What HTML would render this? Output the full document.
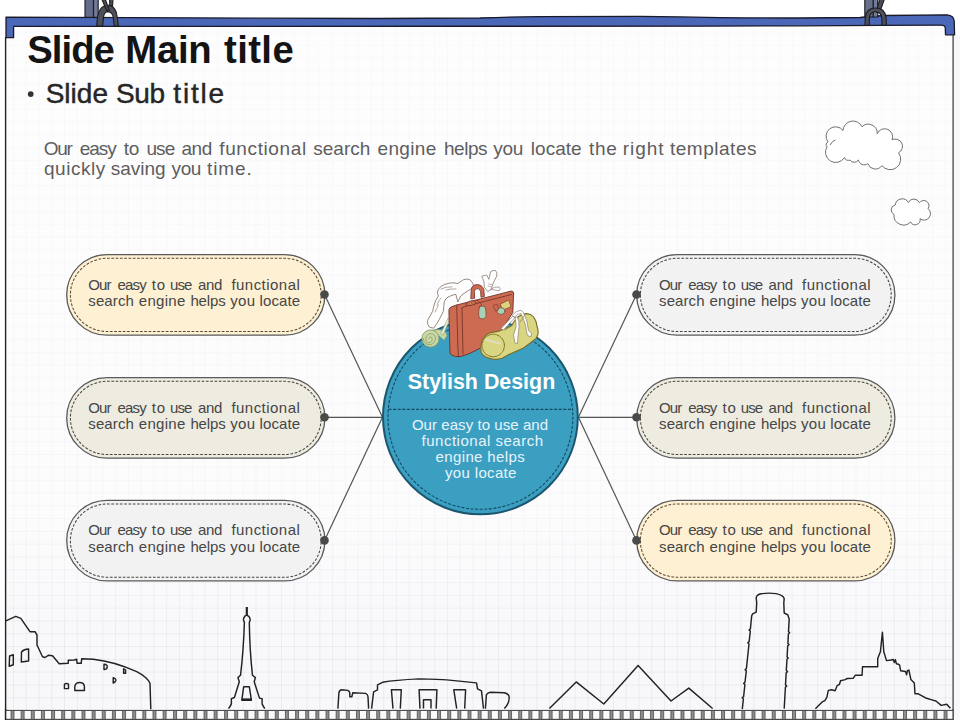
<!DOCTYPE html>
<html><head><meta charset="utf-8">
<style>
html,body{margin:0;padding:0;}
body{width:960px;height:720px;overflow:hidden;position:relative;background:#fff;font-family:"Liberation Sans",sans-serif;}
.abs{position:absolute;}
#paper{left:6px;top:26px;width:947px;height:684px;background-color:#f6f6f9;
background-image:linear-gradient(to bottom, rgba(255,255,255,.8) 0%, rgba(255,255,255,.68) 72%, rgba(255,255,255,.3) 88%, rgba(255,255,255,.22) 100%),linear-gradient(to right, rgba(190,190,215,.32) 1px, transparent 1px),linear-gradient(to bottom, rgba(190,190,215,.32) 1px, transparent 1px);
background-size:100% 100%,12.78px 12.8px,12.78px 12.8px;background-position:0 0,-5.8px -7px,-5.8px -7px;}
#svg{position:absolute;left:0;top:0;}
.t{position:absolute;white-space:nowrap;}
.tt{top:28.3px;font-size:38.3px;font-weight:bold;color:#141414;line-height:44px;}
.st{top:77.3px;font-size:28px;color:#262626;line-height:34px;-webkit-text-stroke:0.45px #262626;}
.bw{position:absolute;white-space:nowrap;font-size:19px;color:#5e5e5e;line-height:20px;letter-spacing:0.6px;}
.pw{position:absolute;white-space:nowrap;font-size:15px;line-height:16.5px;color:#464646;letter-spacing:0.3px;}
#ct{left:383.5px;top:369.5px;width:196px;text-align:center;font-size:21.4px;font-weight:bold;color:#fff;}
.cb{font-size:15px;line-height:16px;color:#e6f4fa;}
</style></head>
<body>
<div id="paper" class="abs"></div>
<svg id="svg" width="960" height="720" viewBox="0 0 960 720">
  <circle cx="30.7" cy="94.1" r="2.9" fill="#333"/>
  <!-- paper side borders -->
  <line x1="5.6" y1="37" x2="5.6" y2="720" stroke="#222" stroke-width="1.4"/>
  <rect x="954" y="35" width="6" height="685" fill="#f8f8fa"/>
  <line x1="953.1" y1="34" x2="953.1" y2="720" stroke="#444" stroke-width="1.3"/>

  <!-- top blue bar -->
  <path d="M6,17.2 L130,17.6 Q200,17.9 260,18.2 Q320,18.5 375,18.5 Q440,18.4 480,18 Q510,16.8 540,16.6 L640,16.4 Q680,16.8 720,17.6 Q770,18.1 800,18 L860,17.5 Q872,16 885,15.5 L947,14.8 Q953.8,15.3 954.2,21 L954.6,34.8 L945.5,34.8 L945.3,28 Q945,25.2 941,25.2 L880,25.3 Q840,25.5 800,25.8 L700,26.2 L13.6,26.4 L13.6,37.6 L6,37.6 Z" fill="#4a67b8" stroke="#1a1a2a" stroke-width="1.3" stroke-linejoin="round"/>

  <!-- clips left -->
  <g stroke="#1c1c22" stroke-width="1.1" stroke-linejoin="round">
    <rect x="85" y="-2" width="8.5" height="19.4" fill="#646c87"/>
    <rect x="93.5" y="-2" width="4.7" height="19.4" fill="#6f7894"/>
    <path d="M96.7,26 L97.5,17 Q99,9 103,6.6 Q107,4.6 111,5.5 Q115,8 116.5,13 L118.5,26 L114.2,26 L113.3,17.5 Q112.5,12.2 108,11.8 Q104.6,11.9 103.7,16 L102.6,26 Z" fill="#4d5058"/>
    <path d="M109.5,-2 L113,-2 L112.6,5.6 L109.8,5.6 Z" fill="#4a4d55"/>
    <path d="M101.3,-2 L104.8,-2 L109.3,10.2 L106.8,10.8 Z" fill="#4a4d55"/>
  </g>
  <!-- clips right -->
  <g stroke="#1c1c22" stroke-width="1.1" stroke-linejoin="round">
    <rect x="864.8" y="-2" width="8.5" height="19" fill="#68718c"/>
    <rect x="873.3" y="-2" width="4.4" height="19" fill="#737c98"/>
    <path d="M880,-2 L884.8,-2 L879.5,13 L876.3,12 Z" fill="#4a4d55"/>
    <path d="M865,25.4 L865.3,17 Q866.5,8 875.6,8 Q884.8,8 886,17 L886.3,25.4 L882,25.4 L881.8,18 Q881,11.8 875.5,11.8 Q870,11.8 869.4,18 L869.2,25.4 Z" fill="#4d5058"/>
  </g>

  <!-- clouds -->
  <path d="M828,142 A8,8 0 0 1 843,130.5 A10,10 0 0 1 862,126.7 A9,9 0 0 1 877.2,133.7 A8,8 0 0 1 892,139.8 A7,7 0 0 1 898.5,152.8 A9,9 0 0 1 881.9,165.6 A8,8 0 0 1 867.8,163.7 A6,6 0 0 1 858.4,160 A5,5 0 0 1 850,160 A4,4 0 0 1 844.4,157.6 A10,10 0 0 1 827,146.9 A3,3 0 0 1 828,142 Z" fill="#fff" stroke="#707070" stroke-width="1"/>
  <path d="M830,145 Q832,141 835.5,140" fill="none" stroke="#707070" stroke-width="1"/>
  <path d="M895.3,205 A7,7 0 0 1 908.4,202.5 A6,6 0 0 1 919.4,202.8 A5,5 0 0 1 928.1,208.7 A6,6 0 0 1 920,218.7 A5,5 0 0 1 910.6,221.9 A9.6,9.6 0 0 1 894,214.4 A5,5 0 0 1 895.3,205 Z" fill="#fff" stroke="#707070" stroke-width="1"/>

  <!-- connector lines -->
  <g stroke="#555" stroke-width="1.2" fill="none">
    <line x1="324.5" y1="294.5" x2="382.5" y2="417.3"/>
    <line x1="324.5" y1="417.3" x2="382.5" y2="417.3"/>
    <line x1="324.5" y1="540.4" x2="382.5" y2="417.3"/>
    <line x1="636.5" y1="294.5" x2="578.4" y2="417.3"/>
    <line x1="636.5" y1="417.3" x2="578.4" y2="417.3"/>
    <line x1="636.5" y1="540.4" x2="578.4" y2="417.3"/>
  </g>

  <!-- pills -->
  <g stroke="#5a5a5a" stroke-width="1.3">
    <rect x="66.7" y="254.6" width="258.2" height="80.6" rx="40.3" fill="#fdf0d3"/>
    <rect x="66.7" y="377.6" width="258.2" height="80.6" rx="40.3" fill="#eeebe0"/>
    <rect x="66.7" y="500.3" width="258.2" height="80.6" rx="40.3" fill="#f2f2f2"/>
    <rect x="636.7" y="254.6" width="258.2" height="80.6" rx="40.3" fill="#f2f2f2"/>
    <rect x="636.7" y="377.6" width="258.2" height="80.6" rx="40.3" fill="#eeebe0"/>
    <rect x="636.7" y="500.3" width="258.2" height="80.6" rx="40.3" fill="#fdf0d3"/>
  </g>
  <g stroke-width="1.05" stroke-dasharray="2.7 1.6" fill="none">
    <rect x="70.4" y="258.3" width="250.8" height="73.2" rx="36.6" stroke="#564a35"/>
    <rect x="640.4" y="258.3" width="250.8" height="73.2" rx="36.6" stroke="#444"/>
    <rect x="70.4" y="381.3" width="250.8" height="73.2" rx="36.6" stroke="#48463d"/>
    <rect x="640.4" y="381.3" width="250.8" height="73.2" rx="36.6" stroke="#48463d"/>
    <rect x="70.4" y="504.0" width="250.8" height="73.2" rx="36.6" stroke="#444"/>
    <rect x="640.4" y="504.0" width="250.8" height="73.2" rx="36.6" stroke="#564a35"/>
  </g>
  <g fill="#4a4a4a">
    <circle cx="324.5" cy="294.5" r="4.3"/>
    <circle cx="324.5" cy="417.3" r="4.3"/>
    <circle cx="324.5" cy="540.4" r="4.3"/>
    <circle cx="636.5" cy="294.5" r="4.3"/>
    <circle cx="636.5" cy="417.3" r="4.3"/>
    <circle cx="636.5" cy="540.4" r="4.3"/>
  </g>

  <!-- center circle -->
  <circle cx="480.4" cy="416.9" r="97.4" fill="#3b9fc2" stroke="#1c566e" stroke-width="2"/>
  <circle cx="480.4" cy="416.9" r="92.4" fill="none" stroke="#174a61" stroke-width="1.1" stroke-dasharray="3 1.6"/>
  <line x1="388.5" y1="409.4" x2="572.5" y2="409.4" stroke="#174a61" stroke-width="1.2" stroke-dasharray="3 1.6"/>


  <!-- luggage -->
  <g id="lug" stroke-linejoin="round" stroke-linecap="round">
    <!-- cloth / scarf -->
    <path d="M472.3,282.5 Q470,278.5 467.5,279.1 Q463,279 461.6,281 L457.8,283.5 Q454,282.5 450,283 Q444,284 441.2,286.4 Q437.5,289 437.4,292.2 L438.3,296.1 Q436,299.5 434.4,303.9 L432.5,311.6 Q430,316 427.6,320.4 Q427,325 429.6,327.2 L433.5,328.2 Q437,324 439.3,319.4 L443.2,311.6 Q444,306 444.2,301.9 Q445.5,298.5 448,297.1 Q452,295 455.8,294.2 L457.8,301.9 L460.7,296.1 Q464,293 467.5,291.2 Q470.5,289.5 472.3,287.4 Q474,286 473.3,284.4 Z" fill="#fff" stroke="#7d6a5a" stroke-width="0.8"/>
    <path d="M441,289 Q446,286.5 452,286.8 M446,290 Q451,288.5 456,289 M437,305 Q439,300 441,298 M435,312 Q437,308 438.5,305" fill="none" stroke="#7d6a5a" stroke-width="0.6"/>
    <!-- snail roll -->
    <path d="M433,330 Q446,328 447,336 L444,340" fill="#c9d9a6" stroke="#8a9a6a" stroke-width="0.8"/>
    <circle cx="430.5" cy="338.5" r="8.6" fill="#c9d9a6" stroke="#8a9a6a" stroke-width="0.9"/>
    <path d="M430.5,338.5 m-1.5,0 a1.5,1.5 0 1 1 3,0 a3.2,3.2 0 1 1 -6,0 a4.8,4.8 0 1 1 9.6,0 a6.2,6.2 0 1 1 -12.4,0" fill="none" stroke="#8a9a6a" stroke-width="0.8"/>
    <!-- strap going to suitcase -->
    <path d="M441,333 L448,318 L450,319 L443,335 Z" fill="#e8efe0" stroke="#8a9a6a" stroke-width="0.6"/>
    <!-- white ribbon top right -->
    <path d="M482.2,276.1 L486.7,275 L488.9,279.4 L490.6,271.7 Q493,270 495.6,270.6 Q497.5,272.5 496.7,276.1 L493.3,282.8 L491.1,289.4 L487.8,291.7 L484.4,287.2 L483.9,281.7 Z" fill="#fff" stroke="#7d6a5a" stroke-width="0.7"/>
    <path d="M488.5,284 L492,284.5 M488,286 L491.5,287" stroke="#7d6a5a" stroke-width="0.5"/>
    <!-- suitcase -->
    <path d="M449.2,309 Q449.5,307.5 452,306.6 L456.7,305 L511.1,291.1 Q513.5,291 513.6,293 L512.8,312.6 L502,329.5 L480,348.3 L470,353.3 L460,356.7 Q455,357 451.5,355 Q450,354 450,352 L448.9,311 Z" fill="#cd6b52" stroke="#6e2f22" stroke-width="0.9"/>
    <path d="M456.7,305 L457.8,345 L458.5,356.5 M462,308 Q463.5,307 466,306.2 L511.5,294.5 M462,308 L463,354" fill="none" stroke="#6e2f22" stroke-width="0.8"/>
    <!-- handle -->
    <path d="M470.8,298.5 L471.2,290 Q472,285 476.5,284.6 Q482,284.5 483.8,289.5 L484.4,296.5 L481,297.3 L480.6,291.5 Q479.8,288.5 477.2,288.6 Q474.6,288.8 474.4,291.5 L474.6,298 Z" fill="#cd6b52" stroke="#6e2f22" stroke-width="0.8"/>
    <path d="M466,303.5 Q469,300.5 473,300.6 Q476.5,301.3 475.5,304 Q471,306.5 466.5,305.5 Z" fill="#cd6b52" stroke="#6e2f22" stroke-width="0.7"/>
    <circle cx="470.5" cy="303.4" r="1" fill="#d9d681" stroke="#6e2f22" stroke-width="0.4"/>
    <!-- white blob on top -->
    <path d="M491,289 Q494,286.5 499,287 Q501,288.5 499.5,290.5 Z" fill="#fff" stroke="#7d6a5a" stroke-width="0.6"/>
    <!-- tag -->
    <path d="M479.5,307 Q482,305.5 484.8,306.5 Q486.5,311 486,316.5 Q485,319 482,319 Q479,318.5 478.7,316 Q478.3,311 479.5,307 Z" fill="#a9d1b8" stroke="#6e2f22" stroke-width="0.6"/>
    <path d="M481.5,306 Q480.5,301 476,300" fill="none" stroke="#6e2f22" stroke-width="0.6"/>
    <!-- stickers -->
    <path d="M500.5,304 L508.8,300.1 L511,306.8 L503,310 Z" fill="#dcd47e" stroke="#6e2f22" stroke-width="0.6"/>
    <ellipse cx="501" cy="311" rx="4" ry="3.4" fill="#a9d1b8" stroke="#6e2f22" stroke-width="0.6"/>
    <path d="M493.5,305.5 Q495,304 497,304.5 L499,309 L496,311 Z" fill="#cd6b52" stroke="#6e2f22" stroke-width="0.6"/>
    <!-- duffel bag -->
    <path d="M480.7,348.6 Q481.5,340 484.6,336.9 Q486.5,334 489.4,333 Q495,331.5 499.2,331.1 L503,329.2 L510.8,326.2 Q515,320 518.6,316.5 Q522,314 526.4,313.6 Q531,314 533.2,316.5 Q536.5,320.5 537,326.2 Q538.5,330 538,334 Q537,338.5 533.2,340.8 Q528,345 522.5,348.6 Q515,352 508.9,354.4 L502.1,358.3 Q498,359.5 494.3,359.3 Q490,359 486.5,357.3 Q482.5,355.5 481.2,352.5 Z" fill="#d9d681" stroke="#7a6c28" stroke-width="1.1"/>
    <circle cx="493.2" cy="345.5" r="11.2" fill="#d9d681" stroke="#7a6c28" stroke-width="1" stroke-dasharray="1.6 1.1"/>
    <path d="M486,339.5 L500,343.5" stroke="#fff" stroke-width="1.6"/>
    <path d="M486,339.5 L500,343.5" stroke="#857a35" stroke-width="0.4" fill="none"/>
    <!-- straps on duffel -->
    <path d="M501,328.5 Q507,322 512.5,316.5 L515.3,317.2 Q509,324 503.5,330 Z" fill="#fff" stroke="#7d6a5a" stroke-width="0.6"/>
    <path d="M512.5,315 Q516,310.5 521,310.2 L523,312 Q526,318 527,322 L528.5,330.5 L531.5,333 L531,336.5 Q528,337 527,334 L525.5,325 Q523,318 521,313.5 Q517,313.5 514.5,317 Z" fill="#fff" stroke="#7d6a5a" stroke-width="0.6"/>
    <path d="M515,318 Q516.5,322 516,327 L513.5,335 L515,343 L517.5,343.5 L518,336 L519,327 Q519.5,321 517.5,317 Z" fill="#fff" stroke="#7d6a5a" stroke-width="0.6"/>
    <path d="M505,330 Q510,327 513,325 M520,322 Q523,319 524,316" fill="none" stroke="#857a35" stroke-width="0.7"/>
  </g>

  <!-- skyline -->
  <g stroke="#222" stroke-width="1.45" fill="none" stroke-linejoin="round">
    <!-- colosseum -->
    <path d="M5.8,620.8 L15.8,616.3 L20.8,618.3 L30,631.7 L35,631.7 L37,635 L37,645 L42.5,656.7 L45,657.5 L48.3,655.3 L52.5,655.8 L59.2,663.7 L68.3,663.3 L68.3,660.3 L74.2,660 L76.7,659.2 L77,663.3 L81.2,663.3 L81.7,658.7 L93.3,659.2 C105,660.5 120,664 136.7,671.7 C143,675 148,679 150,683.3 L150.8,709.2"/>
    <path d="M9.6,656 L13.3,654.7 L13.3,664.8 L9.2,666.3 Z"/>
    <path d="M21.5,652 Q24,649 28.6,649 L28.6,661 L21.3,662 Z"/>
    <path d="M64.5,684 Q66.5,682.8 68.5,684 L68.5,688.6 L64.4,688.6 Z"/>
    <path d="M74.8,690.4 L74.8,686.5 Q75.5,682.5 79.6,682.5 Q84,682.5 84.4,686.5 L84.4,690.4 Z"/>
    <path d="M104,664.2 Q107.5,664.5 107.2,667 Q107,669.6 104,669.6 Z"/>
    <path d="M123.6,668.8 L125.6,670 L125.6,673.2 L123.6,673.2 Z"/>
    <path d="M113.2,677.6 Q116.2,679 115.9,680.5 Q115,682.5 113.2,683 Z"/>
    <!-- eiffel -->
    <path d="M228.5,708.6 Q230.5,706 231.4,703.9 L231.4,698.7 L234.4,697.5 L239.3,681.7 L237.9,677.6 L240.5,675.3 Q243.4,652 244.4,622.4 L243.4,620 Q243.6,617.5 244.8,616.4 L244.8,616.2 L246.8,615.2 L248.8,616.4 Q250.1,617.5 250.2,620 L249.3,622.4 Q249.8,652 252.5,675.3 L255.4,677.6 L254.2,681.7 L259.5,698.1 L262.1,698.7 L262.1,703.9 Q263,706 264.8,708.6"/>
    <path d="M243.7,686.7 L249.3,686.7 L251.4,700.2 L241.8,700.2 Z"/>
    <line x1="246.8" y1="607" x2="246.8" y2="615.2" stroke-width="2.2"/>
    <line x1="241.8" y1="699.6" x2="251.4" y2="699.6" stroke-width="2.4"/>
    <!-- stonehenge -->
    <path d="M337.9,708.6 L338.9,692.8 Q339.5,690 341.9,689.8 L347.8,690.4 Q349.8,691 349.8,693.8 L349.8,696.7 L351.8,696.7 L352.8,692.8 L365.6,693.4 Q368,694.5 368,696.7 L368.6,708.6"/>
    <path d="M371.6,708.6 L373.6,691.8 L377.5,689.8 L377.5,684.9 L382.5,682.3 Q395,680 419.1,678.9 Q440,679.2 446.8,679.9 L476.5,682.9 L477.5,688.8 L481.5,690.8 L483.5,708.6"/>
    <path d="M393,708.6 L391.4,689.8 L401.3,689.8 L400.3,708.6"/>
    <path d="M420,708.6 L419.1,689.8 L436.9,689.8 L436.2,708.6"/>
    <path d="M423.5,708.6 L423.5,699.7 L431,699.7 L431,708.6"/>
    <path d="M456.7,708.6 L453.8,689.8 L465.6,689.8 L464.7,708.6"/>
    <path d="M485.4,708.6 L486.4,694.8 Q487.5,692.5 490.4,692.2 L504.3,692.8 Q509.5,694 509.2,698 Q509,704 504.3,708.6"/>
    <!-- pyramids -->
    <path d="M549.4,708.5 L576.2,681.9 L603.8,704 L638.1,665.4 L671,701 L688.8,688.1 L712.6,708.5"/>
    <!-- pisa -->
    <path d="M742.3,709.2 L743.4,699.0 L742.2,697.8 L743.6,696.6 L744.9,684.6 L743.7,683.4 L745.0,682.2 L746.3,671.0 L745.1,669.8 L746.4,668.6 L749.0,644.0 L747.8,642.8 L749.1,641.6 L750.3,631.3 L749.1,630.1 L750.4,628.9 L751.7,615.7 L752.6,613.9 L756.2,612.1 L756.7,603 L756.2,597.6 Q757,594.6 761,593.8 Q768,592.6 776,593.6 Q783,595 784.2,598.5 L783.8,603 L784.2,613 L787.8,614.8 L789.2,619.3 L788.5,631.6 L789.6,632.8 L788.4,634.0 L787.9,643.4 L789.0,644.6 L787.7,645.8 L787.1,656.9 L788.2,658.1 L787.0,659.3 L786.3,670.4 L787.5,671.6 L786.2,672.8 L785.5,684.9 L786.7,686.1 L785.4,687.3 L784.2,708.6"/>
    <!-- mont st michel -->
    <path d="M815.4,708.7 L818.1,706 L822.2,701.9 L824.9,700.6 L826.9,697.2 L828.3,690.4 L831.7,689.7 L835.1,690.7 L837.1,685.7 L839.5,684.3 L840.5,680.7 L845.2,679.6 L847.2,678.5 L853.3,678.2 L855.4,675.2 L862.1,675.2 L862.5,666.7 L877.7,666.7 L877.7,658.6 L880.4,651.8 L882.4,632.2 L883.8,651.8 L886.5,660.6 L891.2,660 L893.2,659.4 L894.3,662.6 L895.4,659.6 L896.4,663.8 L898.2,664.2 L899.6,665.2 L900.7,670.8 L905.5,671.5 L906.6,674.8 L907.4,670.6 L908.9,670.1 L910.9,679.6 L914.3,683 L915,693.8 L918.3,693.8 L926.5,698.3 L931.9,699.9 L935.9,701 L941.2,705.4 L946.7,704.2 L950.4,708.3"/>
  </g>

  <!-- film strip -->
  <rect x="6" y="710" width="947.3" height="10" fill="#fafafa"/>
  <line x1="5.5" y1="710.4" x2="953.5" y2="710.4" stroke="#3a3a3a" stroke-width="1"/>
  <rect x="6" y="718.8" width="947.3" height="1.5" fill="#4a4a4a"/>
  <g id="film"><rect x="11.00" y="711" width="3" height="8" fill="#8e8e8e"/><path d="M11.00,711V719M14.00,711V719" stroke="#3c3c3c" stroke-width="0.7"/><rect x="21.14" y="711" width="3" height="8" fill="#8e8e8e"/><path d="M21.14,711V719M24.14,711V719" stroke="#3c3c3c" stroke-width="0.7"/><rect x="31.28" y="711" width="3" height="8" fill="#8e8e8e"/><path d="M31.28,711V719M34.28,711V719" stroke="#3c3c3c" stroke-width="0.7"/><rect x="41.43" y="711" width="3" height="8" fill="#8e8e8e"/><path d="M41.43,711V719M44.43,711V719" stroke="#3c3c3c" stroke-width="0.7"/><rect x="51.57" y="711" width="3" height="8" fill="#8e8e8e"/><path d="M51.57,711V719M54.57,711V719" stroke="#3c3c3c" stroke-width="0.7"/><rect x="61.71" y="711" width="3" height="8" fill="#8e8e8e"/><path d="M61.71,711V719M64.71,711V719" stroke="#3c3c3c" stroke-width="0.7"/><rect x="71.85" y="711" width="3" height="8" fill="#8e8e8e"/><path d="M71.85,711V719M74.85,711V719" stroke="#3c3c3c" stroke-width="0.7"/><rect x="81.99" y="711" width="3" height="8" fill="#8e8e8e"/><path d="M81.99,711V719M84.99,711V719" stroke="#3c3c3c" stroke-width="0.7"/><rect x="92.14" y="711" width="3" height="8" fill="#8e8e8e"/><path d="M92.14,711V719M95.14,711V719" stroke="#3c3c3c" stroke-width="0.7"/><rect x="102.28" y="711" width="3" height="8" fill="#8e8e8e"/><path d="M102.28,711V719M105.28,711V719" stroke="#3c3c3c" stroke-width="0.7"/><rect x="112.42" y="711" width="3" height="8" fill="#8e8e8e"/><path d="M112.42,711V719M115.42,711V719" stroke="#3c3c3c" stroke-width="0.7"/><rect x="122.56" y="711" width="3" height="8" fill="#8e8e8e"/><path d="M122.56,711V719M125.56,711V719" stroke="#3c3c3c" stroke-width="0.7"/><rect x="132.70" y="711" width="3" height="8" fill="#8e8e8e"/><path d="M132.70,711V719M135.70,711V719" stroke="#3c3c3c" stroke-width="0.7"/><rect x="142.85" y="711" width="3" height="8" fill="#8e8e8e"/><path d="M142.85,711V719M145.85,711V719" stroke="#3c3c3c" stroke-width="0.7"/><rect x="152.99" y="711" width="3" height="8" fill="#8e8e8e"/><path d="M152.99,711V719M155.99,711V719" stroke="#3c3c3c" stroke-width="0.7"/><rect x="163.13" y="711" width="3" height="8" fill="#8e8e8e"/><path d="M163.13,711V719M166.13,711V719" stroke="#3c3c3c" stroke-width="0.7"/><rect x="173.57" y="711" width="3" height="8" fill="#8e8e8e"/><path d="M173.57,711V719M176.57,711V719" stroke="#3c3c3c" stroke-width="0.7"/><rect x="183.71" y="711" width="3" height="8" fill="#8e8e8e"/><path d="M183.71,711V719M186.71,711V719" stroke="#3c3c3c" stroke-width="0.7"/><rect x="193.86" y="711" width="3" height="8" fill="#8e8e8e"/><path d="M193.86,711V719M196.86,711V719" stroke="#3c3c3c" stroke-width="0.7"/><rect x="204.00" y="711" width="3" height="8" fill="#8e8e8e"/><path d="M204.00,711V719M207.00,711V719" stroke="#3c3c3c" stroke-width="0.7"/><rect x="214.14" y="711" width="3" height="8" fill="#8e8e8e"/><path d="M214.14,711V719M217.14,711V719" stroke="#3c3c3c" stroke-width="0.7"/><rect x="224.58" y="711" width="3" height="8" fill="#8e8e8e"/><path d="M224.58,711V719M227.58,711V719" stroke="#3c3c3c" stroke-width="0.7"/><rect x="234.72" y="711" width="3" height="8" fill="#8e8e8e"/><path d="M234.72,711V719M237.72,711V719" stroke="#3c3c3c" stroke-width="0.7"/><rect x="244.87" y="711" width="3" height="8" fill="#8e8e8e"/><path d="M244.87,711V719M247.87,711V719" stroke="#3c3c3c" stroke-width="0.7"/><rect x="255.01" y="711" width="3" height="8" fill="#8e8e8e"/><path d="M255.01,711V719M258.01,711V719" stroke="#3c3c3c" stroke-width="0.7"/><rect x="265.15" y="711" width="3" height="8" fill="#8e8e8e"/><path d="M265.15,711V719M268.15,711V719" stroke="#3c3c3c" stroke-width="0.7"/><rect x="275.29" y="711" width="3" height="8" fill="#8e8e8e"/><path d="M275.29,711V719M278.29,711V719" stroke="#3c3c3c" stroke-width="0.7"/><rect x="285.43" y="711" width="3" height="8" fill="#8e8e8e"/><path d="M285.43,711V719M288.43,711V719" stroke="#3c3c3c" stroke-width="0.7"/><rect x="295.58" y="711" width="3" height="8" fill="#8e8e8e"/><path d="M295.58,711V719M298.58,711V719" stroke="#3c3c3c" stroke-width="0.7"/><rect x="305.72" y="711" width="3" height="8" fill="#8e8e8e"/><path d="M305.72,711V719M308.72,711V719" stroke="#3c3c3c" stroke-width="0.7"/><rect x="315.86" y="711" width="3" height="8" fill="#8e8e8e"/><path d="M315.86,711V719M318.86,711V719" stroke="#3c3c3c" stroke-width="0.7"/><rect x="326.00" y="711" width="3" height="8" fill="#8e8e8e"/><path d="M326.00,711V719M329.00,711V719" stroke="#3c3c3c" stroke-width="0.7"/><rect x="336.14" y="711" width="3" height="8" fill="#8e8e8e"/><path d="M336.14,711V719M339.14,711V719" stroke="#3c3c3c" stroke-width="0.7"/><rect x="346.29" y="711" width="3" height="8" fill="#8e8e8e"/><path d="M346.29,711V719M349.29,711V719" stroke="#3c3c3c" stroke-width="0.7"/><rect x="356.43" y="711" width="3" height="8" fill="#8e8e8e"/><path d="M356.43,711V719M359.43,711V719" stroke="#3c3c3c" stroke-width="0.7"/><rect x="366.57" y="711" width="3" height="8" fill="#8e8e8e"/><path d="M366.57,711V719M369.57,711V719" stroke="#3c3c3c" stroke-width="0.7"/><rect x="376.71" y="711" width="3" height="8" fill="#8e8e8e"/><path d="M376.71,711V719M379.71,711V719" stroke="#3c3c3c" stroke-width="0.7"/><rect x="386.85" y="711" width="3" height="8" fill="#8e8e8e"/><path d="M386.85,711V719M389.85,711V719" stroke="#3c3c3c" stroke-width="0.7"/><rect x="397.00" y="711" width="3" height="8" fill="#8e8e8e"/><path d="M397.00,711V719M400.00,711V719" stroke="#3c3c3c" stroke-width="0.7"/><rect x="407.14" y="711" width="3" height="8" fill="#8e8e8e"/><path d="M407.14,711V719M410.14,711V719" stroke="#3c3c3c" stroke-width="0.7"/><rect x="417.28" y="711" width="3" height="8" fill="#8e8e8e"/><path d="M417.28,711V719M420.28,711V719" stroke="#3c3c3c" stroke-width="0.7"/><rect x="427.42" y="711" width="3" height="8" fill="#8e8e8e"/><path d="M427.42,711V719M430.42,711V719" stroke="#3c3c3c" stroke-width="0.7"/><rect x="437.56" y="711" width="3" height="8" fill="#8e8e8e"/><path d="M437.56,711V719M440.56,711V719" stroke="#3c3c3c" stroke-width="0.7"/><rect x="447.71" y="711" width="3" height="8" fill="#8e8e8e"/><path d="M447.71,711V719M450.71,711V719" stroke="#3c3c3c" stroke-width="0.7"/><rect x="457.85" y="711" width="3" height="8" fill="#8e8e8e"/><path d="M457.85,711V719M460.85,711V719" stroke="#3c3c3c" stroke-width="0.7"/><rect x="467.99" y="711" width="3" height="8" fill="#8e8e8e"/><path d="M467.99,711V719M470.99,711V719" stroke="#3c3c3c" stroke-width="0.7"/><rect x="478.13" y="711" width="3" height="8" fill="#8e8e8e"/><path d="M478.13,711V719M481.13,711V719" stroke="#3c3c3c" stroke-width="0.7"/><rect x="488.27" y="711" width="3" height="8" fill="#8e8e8e"/><path d="M488.27,711V719M491.27,711V719" stroke="#3c3c3c" stroke-width="0.7"/><rect x="498.42" y="711" width="3" height="8" fill="#8e8e8e"/><path d="M498.42,711V719M501.42,711V719" stroke="#3c3c3c" stroke-width="0.7"/><rect x="508.56" y="711" width="3" height="8" fill="#8e8e8e"/><path d="M508.56,711V719M511.56,711V719" stroke="#3c3c3c" stroke-width="0.7"/><rect x="518.70" y="711" width="3" height="8" fill="#8e8e8e"/><path d="M518.70,711V719M521.70,711V719" stroke="#3c3c3c" stroke-width="0.7"/><rect x="528.84" y="711" width="3" height="8" fill="#8e8e8e"/><path d="M528.84,711V719M531.84,711V719" stroke="#3c3c3c" stroke-width="0.7"/><rect x="538.98" y="711" width="3" height="8" fill="#8e8e8e"/><path d="M538.98,711V719M541.98,711V719" stroke="#3c3c3c" stroke-width="0.7"/><rect x="549.13" y="711" width="3" height="8" fill="#8e8e8e"/><path d="M549.13,711V719M552.13,711V719" stroke="#3c3c3c" stroke-width="0.7"/><rect x="559.27" y="711" width="3" height="8" fill="#8e8e8e"/><path d="M559.27,711V719M562.27,711V719" stroke="#3c3c3c" stroke-width="0.7"/><rect x="569.41" y="711" width="3" height="8" fill="#8e8e8e"/><path d="M569.41,711V719M572.41,711V719" stroke="#3c3c3c" stroke-width="0.7"/><rect x="579.55" y="711" width="3" height="8" fill="#8e8e8e"/><path d="M579.55,711V719M582.55,711V719" stroke="#3c3c3c" stroke-width="0.7"/><rect x="589.69" y="711" width="3" height="8" fill="#8e8e8e"/><path d="M589.69,711V719M592.69,711V719" stroke="#3c3c3c" stroke-width="0.7"/><rect x="599.84" y="711" width="3" height="8" fill="#8e8e8e"/><path d="M599.84,711V719M602.84,711V719" stroke="#3c3c3c" stroke-width="0.7"/><rect x="609.98" y="711" width="3" height="8" fill="#8e8e8e"/><path d="M609.98,711V719M612.98,711V719" stroke="#3c3c3c" stroke-width="0.7"/><rect x="620.12" y="711" width="3" height="8" fill="#8e8e8e"/><path d="M620.12,711V719M623.12,711V719" stroke="#3c3c3c" stroke-width="0.7"/><rect x="630.26" y="711" width="3" height="8" fill="#8e8e8e"/><path d="M630.26,711V719M633.26,711V719" stroke="#3c3c3c" stroke-width="0.7"/><rect x="640.40" y="711" width="3" height="8" fill="#8e8e8e"/><path d="M640.40,711V719M643.40,711V719" stroke="#3c3c3c" stroke-width="0.7"/><rect x="650.55" y="711" width="3" height="8" fill="#8e8e8e"/><path d="M650.55,711V719M653.55,711V719" stroke="#3c3c3c" stroke-width="0.7"/><rect x="660.69" y="711" width="3" height="8" fill="#8e8e8e"/><path d="M660.69,711V719M663.69,711V719" stroke="#3c3c3c" stroke-width="0.7"/><rect x="670.83" y="711" width="3" height="8" fill="#8e8e8e"/><path d="M670.83,711V719M673.83,711V719" stroke="#3c3c3c" stroke-width="0.7"/><rect x="680.97" y="711" width="3" height="8" fill="#8e8e8e"/><path d="M680.97,711V719M683.97,711V719" stroke="#3c3c3c" stroke-width="0.7"/><rect x="691.11" y="711" width="3" height="8" fill="#8e8e8e"/><path d="M691.11,711V719M694.11,711V719" stroke="#3c3c3c" stroke-width="0.7"/><rect x="701.26" y="711" width="3" height="8" fill="#8e8e8e"/><path d="M701.26,711V719M704.26,711V719" stroke="#3c3c3c" stroke-width="0.7"/><rect x="711.40" y="711" width="3" height="8" fill="#8e8e8e"/><path d="M711.40,711V719M714.40,711V719" stroke="#3c3c3c" stroke-width="0.7"/><rect x="721.54" y="711" width="3" height="8" fill="#8e8e8e"/><path d="M721.54,711V719M724.54,711V719" stroke="#3c3c3c" stroke-width="0.7"/><rect x="731.68" y="711" width="3" height="8" fill="#8e8e8e"/><path d="M731.68,711V719M734.68,711V719" stroke="#3c3c3c" stroke-width="0.7"/><rect x="741.82" y="711" width="3" height="8" fill="#8e8e8e"/><path d="M741.82,711V719M744.82,711V719" stroke="#3c3c3c" stroke-width="0.7"/><rect x="751.97" y="711" width="3" height="8" fill="#8e8e8e"/><path d="M751.97,711V719M754.97,711V719" stroke="#3c3c3c" stroke-width="0.7"/><rect x="762.11" y="711" width="3" height="8" fill="#8e8e8e"/><path d="M762.11,711V719M765.11,711V719" stroke="#3c3c3c" stroke-width="0.7"/><rect x="772.25" y="711" width="3" height="8" fill="#8e8e8e"/><path d="M772.25,711V719M775.25,711V719" stroke="#3c3c3c" stroke-width="0.7"/><rect x="782.39" y="711" width="3" height="8" fill="#8e8e8e"/><path d="M782.39,711V719M785.39,711V719" stroke="#3c3c3c" stroke-width="0.7"/><rect x="792.53" y="711" width="3" height="8" fill="#8e8e8e"/><path d="M792.53,711V719M795.53,711V719" stroke="#3c3c3c" stroke-width="0.7"/><rect x="802.68" y="711" width="3" height="8" fill="#8e8e8e"/><path d="M802.68,711V719M805.68,711V719" stroke="#3c3c3c" stroke-width="0.7"/><rect x="812.82" y="711" width="3" height="8" fill="#8e8e8e"/><path d="M812.82,711V719M815.82,711V719" stroke="#3c3c3c" stroke-width="0.7"/><rect x="822.66" y="711" width="3" height="8" fill="#8e8e8e"/><path d="M822.66,711V719M825.66,711V719" stroke="#3c3c3c" stroke-width="0.7"/><rect x="832.80" y="711" width="3" height="8" fill="#8e8e8e"/><path d="M832.80,711V719M835.80,711V719" stroke="#3c3c3c" stroke-width="0.7"/><rect x="842.94" y="711" width="3" height="8" fill="#8e8e8e"/><path d="M842.94,711V719M845.94,711V719" stroke="#3c3c3c" stroke-width="0.7"/><rect x="853.09" y="711" width="3" height="8" fill="#8e8e8e"/><path d="M853.09,711V719M856.09,711V719" stroke="#3c3c3c" stroke-width="0.7"/><rect x="863.23" y="711" width="3" height="8" fill="#8e8e8e"/><path d="M863.23,711V719M866.23,711V719" stroke="#3c3c3c" stroke-width="0.7"/><rect x="873.07" y="711" width="3" height="8" fill="#8e8e8e"/><path d="M873.07,711V719M876.07,711V719" stroke="#3c3c3c" stroke-width="0.7"/><rect x="883.21" y="711" width="3" height="8" fill="#8e8e8e"/><path d="M883.21,711V719M886.21,711V719" stroke="#3c3c3c" stroke-width="0.7"/><rect x="893.35" y="711" width="3" height="8" fill="#8e8e8e"/><path d="M893.35,711V719M896.35,711V719" stroke="#3c3c3c" stroke-width="0.7"/><rect x="903.50" y="711" width="3" height="8" fill="#8e8e8e"/><path d="M903.50,711V719M906.50,711V719" stroke="#3c3c3c" stroke-width="0.7"/><rect x="913.64" y="711" width="3" height="8" fill="#8e8e8e"/><path d="M913.64,711V719M916.64,711V719" stroke="#3c3c3c" stroke-width="0.7"/><rect x="923.78" y="711" width="3" height="8" fill="#8e8e8e"/><path d="M923.78,711V719M926.78,711V719" stroke="#3c3c3c" stroke-width="0.7"/><rect x="933.92" y="711" width="3" height="8" fill="#8e8e8e"/><path d="M933.92,711V719M936.92,711V719" stroke="#3c3c3c" stroke-width="0.7"/><rect x="944.06" y="711" width="3" height="8" fill="#8e8e8e"/><path d="M944.06,711V719M947.06,711V719" stroke="#3c3c3c" stroke-width="0.7"/></g>
  <line x1="5.6" y1="709" x2="5.6" y2="720" stroke="#222" stroke-width="1.4"/>
  <line x1="953.1" y1="709" x2="953.1" y2="720" stroke="#444" stroke-width="1.3"/>
</svg>

<span class="t tt" style="left:27.2px;letter-spacing:-0.95px">Slide</span><span class="t tt" style="left:125.3px;letter-spacing:-0.27px">Main</span><span class="t tt" style="left:224px;letter-spacing:0.4px">title</span>
<span class="t st" style="left:45.7px">Slide</span><span class="t st" style="left:116px;letter-spacing:-0.4px">Sub</span><span class="t st" style="left:173.3px;letter-spacing:1.8px">title</span>


<span class="bw" style="left:43.70px;top:138.6px;letter-spacing:-1.24px">Our</span>
<span class="bw" style="left:79.70px;top:138.6px;letter-spacing:-1.0px">easy</span>
<span class="bw" style="left:123.80px;top:138.6px;letter-spacing:-0.4px">to</span>
<span class="bw" style="left:146.50px;top:138.6px;letter-spacing:-0.97px">use</span>
<span class="bw" style="left:181.50px;top:138.6px;letter-spacing:-0.5px">and</span>
<span class="bw" style="left:219.30px;top:138.6px;letter-spacing:0.61px">functional</span>
<span class="bw" style="left:313.35px;top:138.6px;letter-spacing:-0.02px">search</span>
<span class="bw" style="left:377.50px;top:138.6px;letter-spacing:0.33px">engine</span>
<span class="bw" style="left:444.00px;top:138.6px;letter-spacing:-0.45px">helps</span>
<span class="bw" style="left:493.35px;top:138.6px;letter-spacing:-0.35px">you</span>
<span class="bw" style="left:530.85px;top:138.6px;letter-spacing:0.0px">locate</span>
<span class="bw" style="left:589.00px;top:138.6px;letter-spacing:0.64px">the</span>
<span class="bw" style="left:622.70px;top:138.6px;letter-spacing:0.99px">right</span>
<span class="bw" style="left:669.90px;top:138.6px;letter-spacing:0.53px">templates</span>
<span class="bw" style="left:44.00px;top:158.6px;letter-spacing:0.51px">quickly</span>
<span class="bw" style="left:110.85px;top:158.6px;letter-spacing:-0.05px">saving</span>
<span class="bw" style="left:171.50px;top:158.6px;letter-spacing:-0.35px">you</span>
<span class="bw" style="left:207.10px;top:158.6px;letter-spacing:0.87px">time.</span>
<span class="pw" style="left:88.35px;top:276.6px;letter-spacing:-0.94px">Our</span>
<span class="pw" style="left:117.50px;top:276.6px;letter-spacing:-0.85px">easy</span>
<span class="pw" style="left:151.70px;top:276.6px;letter-spacing:0.96px">to</span>
<span class="pw" style="left:170.00px;top:276.6px;letter-spacing:-0.86px">use</span>
<span class="pw" style="left:197.90px;top:276.6px;letter-spacing:-0.28px">and</span>
<span class="pw" style="left:231.40px;top:276.6px;letter-spacing:0.47px">functional</span>
<span class="pw" style="left:88.35px;top:293.1px;letter-spacing:0.09px">search</span>
<span class="pw" style="left:138.80px;top:293.1px;letter-spacing:0.28px">engine</span>
<span class="pw" style="left:190.40px;top:293.1px;letter-spacing:-0.12px">helps</span>
<span class="pw" style="left:230.30px;top:293.1px;letter-spacing:0.27px">you</span>
<span class="pw" style="left:259.60px;top:293.1px;letter-spacing:0.09px">locate</span>
<span class="pw" style="left:88.35px;top:399.6px;letter-spacing:-0.94px">Our</span>
<span class="pw" style="left:117.50px;top:399.6px;letter-spacing:-0.85px">easy</span>
<span class="pw" style="left:151.70px;top:399.6px;letter-spacing:0.96px">to</span>
<span class="pw" style="left:170.00px;top:399.6px;letter-spacing:-0.86px">use</span>
<span class="pw" style="left:197.90px;top:399.6px;letter-spacing:-0.28px">and</span>
<span class="pw" style="left:231.40px;top:399.6px;letter-spacing:0.47px">functional</span>
<span class="pw" style="left:88.35px;top:416.1px;letter-spacing:0.09px">search</span>
<span class="pw" style="left:138.80px;top:416.1px;letter-spacing:0.28px">engine</span>
<span class="pw" style="left:190.40px;top:416.1px;letter-spacing:-0.12px">helps</span>
<span class="pw" style="left:230.30px;top:416.1px;letter-spacing:0.27px">you</span>
<span class="pw" style="left:259.60px;top:416.1px;letter-spacing:0.09px">locate</span>
<span class="pw" style="left:88.35px;top:522.3px;letter-spacing:-0.94px">Our</span>
<span class="pw" style="left:117.50px;top:522.3px;letter-spacing:-0.85px">easy</span>
<span class="pw" style="left:151.70px;top:522.3px;letter-spacing:0.96px">to</span>
<span class="pw" style="left:170.00px;top:522.3px;letter-spacing:-0.86px">use</span>
<span class="pw" style="left:197.90px;top:522.3px;letter-spacing:-0.28px">and</span>
<span class="pw" style="left:231.40px;top:522.3px;letter-spacing:0.47px">functional</span>
<span class="pw" style="left:88.35px;top:538.8px;letter-spacing:0.09px">search</span>
<span class="pw" style="left:138.80px;top:538.8px;letter-spacing:0.28px">engine</span>
<span class="pw" style="left:190.40px;top:538.8px;letter-spacing:-0.12px">helps</span>
<span class="pw" style="left:230.30px;top:538.8px;letter-spacing:0.27px">you</span>
<span class="pw" style="left:259.60px;top:538.8px;letter-spacing:0.09px">locate</span>
<span class="pw" style="left:659.05px;top:276.6px;letter-spacing:-0.94px">Our</span>
<span class="pw" style="left:688.20px;top:276.6px;letter-spacing:-0.85px">easy</span>
<span class="pw" style="left:722.40px;top:276.6px;letter-spacing:0.96px">to</span>
<span class="pw" style="left:740.70px;top:276.6px;letter-spacing:-0.86px">use</span>
<span class="pw" style="left:768.60px;top:276.6px;letter-spacing:-0.28px">and</span>
<span class="pw" style="left:802.10px;top:276.6px;letter-spacing:0.47px">functional</span>
<span class="pw" style="left:659.05px;top:293.1px;letter-spacing:0.09px">search</span>
<span class="pw" style="left:709.50px;top:293.1px;letter-spacing:0.28px">engine</span>
<span class="pw" style="left:761.10px;top:293.1px;letter-spacing:-0.12px">helps</span>
<span class="pw" style="left:801.00px;top:293.1px;letter-spacing:0.27px">you</span>
<span class="pw" style="left:830.30px;top:293.1px;letter-spacing:0.09px">locate</span>
<span class="pw" style="left:659.05px;top:399.6px;letter-spacing:-0.94px">Our</span>
<span class="pw" style="left:688.20px;top:399.6px;letter-spacing:-0.85px">easy</span>
<span class="pw" style="left:722.40px;top:399.6px;letter-spacing:0.96px">to</span>
<span class="pw" style="left:740.70px;top:399.6px;letter-spacing:-0.86px">use</span>
<span class="pw" style="left:768.60px;top:399.6px;letter-spacing:-0.28px">and</span>
<span class="pw" style="left:802.10px;top:399.6px;letter-spacing:0.47px">functional</span>
<span class="pw" style="left:659.05px;top:416.1px;letter-spacing:0.09px">search</span>
<span class="pw" style="left:709.50px;top:416.1px;letter-spacing:0.28px">engine</span>
<span class="pw" style="left:761.10px;top:416.1px;letter-spacing:-0.12px">helps</span>
<span class="pw" style="left:801.00px;top:416.1px;letter-spacing:0.27px">you</span>
<span class="pw" style="left:830.30px;top:416.1px;letter-spacing:0.09px">locate</span>
<span class="pw" style="left:659.05px;top:522.3px;letter-spacing:-0.94px">Our</span>
<span class="pw" style="left:688.20px;top:522.3px;letter-spacing:-0.85px">easy</span>
<span class="pw" style="left:722.40px;top:522.3px;letter-spacing:0.96px">to</span>
<span class="pw" style="left:740.70px;top:522.3px;letter-spacing:-0.86px">use</span>
<span class="pw" style="left:768.60px;top:522.3px;letter-spacing:-0.28px">and</span>
<span class="pw" style="left:802.10px;top:522.3px;letter-spacing:0.47px">functional</span>
<span class="pw" style="left:659.05px;top:538.8px;letter-spacing:0.09px">search</span>
<span class="pw" style="left:709.50px;top:538.8px;letter-spacing:0.28px">engine</span>
<span class="pw" style="left:761.10px;top:538.8px;letter-spacing:-0.12px">helps</span>
<span class="pw" style="left:801.00px;top:538.8px;letter-spacing:0.27px">you</span>
<span class="pw" style="left:830.30px;top:538.8px;letter-spacing:0.09px">locate</span>
<div class="t" id="ct">Stylish Design</div>
<div class="t cb" style="left:411.9px;top:416.6px;letter-spacing:0.06px">Our easy to use and</div>
<div class="t cb" style="left:421.6px;top:433px;letter-spacing:0.5px">functional search</div>
<div class="t cb" style="left:435.5px;top:449.4px;letter-spacing:0.38px">engine helps</div>
<div class="t cb" style="left:445px;top:464.9px;letter-spacing:0.34px">you locate</div>
</body></html>
